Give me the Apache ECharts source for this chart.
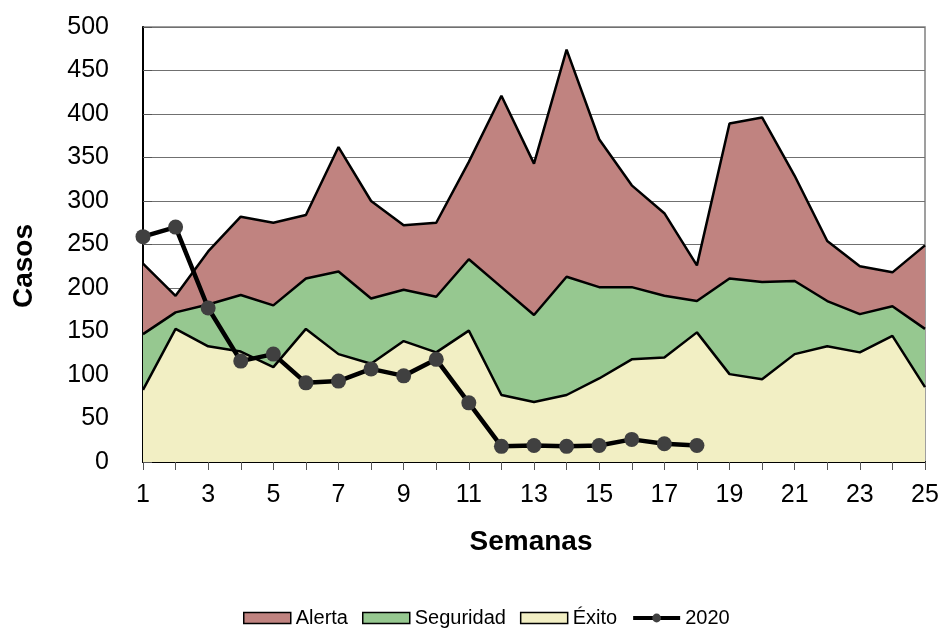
<!DOCTYPE html>
<html>
<head>
<meta charset="utf-8">
<script src="https://cdn.jsdelivr.net/npm/echarts@6/dist/echarts.min.js"></script>
<style>
html,body{margin:0;padding:0;background:#fff;}
#chart{width:944px;height:631px;}
</style>
</head>
<body>
<div id="chart"></div>
<script>
var weeks = ['1','2','3','4','5','6','7','8','9','10','11','12','13','14','15','16','17','18','19','20','21','22','23','24','25'];
var alerta = [228,191,242,282,275,284,362,300,272,275,345,421,343,474,371,318,286,226,389,396,329,254,225,218,249];
var seguridad = [147,172,181,192,180,211,219,188,198,190,233,201,169,213,201,201,191,185,211,207,208,185,170,179,153];
var exito = [83,153,133,127,109,153,124,113,139,126,151,77,69,77,96,118,120,149,101,95,124,133,126,145,86];
var y2020 = [259,270,177,116,124,91,93,107,99,118,68,18,19,18,19,26,21,19];
var yTicks = [0,500,50];

var FONT = "'Liberation Sans', Arial, sans-serif";
var colAlerta = '#C08380';
var colSeg = '#96C890';
var colExito = '#F2EFC4';

function areaSeries(name, data, color) {
  return {
    name: name, type: 'line', data: data, symbol: 'none',
    color: color,
    lineStyle: {color: '#000', width: 2.5},
    itemStyle: {color: color, borderColor: '#000'},
    areaStyle: {color: color, opacity: 1},
    emphasis: {disabled: true}, animation: false
  };
}

var chart = echarts.init(document.getElementById('chart'), null, {renderer: 'canvas'});
chart.setOption({
  backgroundColor: '#fff',
  animation: false,
  textStyle: {fontFamily: FONT},
  grid: {left: 143, right: 19, top: 27, bottom: 169, show: true, borderColor: '#808080', borderWidth: 1.5, backgroundColor: 'transparent'},
  legend: {
    top: 608, left: 243, padding: 0,
    itemWidth: 47, itemHeight: 11, itemGap: 14,
    textStyle: {fontFamily: FONT, fontSize: 20, color: '#000'},
    data: [
      {name: 'Alerta', icon: 'rect', itemStyle: {color: colAlerta, borderColor: '#000', borderWidth: 1.5}},
      {name: 'Seguridad', icon: 'rect', itemStyle: {color: colSeg, borderColor: '#000', borderWidth: 1.5}},
      {name: 'Éxito', icon: 'rect', itemStyle: {color: colExito, borderColor: '#000', borderWidth: 1.5}},
      {name: '2020', itemStyle: {color: '#404040'}, lineStyle: {color: '#000', width: 4}}
    ]
  },
  xAxis: {
    type: 'category', data: weeks, boundaryGap: false,
    axisLine: {lineStyle: {color: '#000', width: 2}},
    axisTick: {show: true, interval: 0, length: 8, lineStyle: {color: '#555', width: 1}},
    axisLabel: {interval: 1, fontSize: 25, color: '#000', fontFamily: FONT, margin: 21},
    splitLine: {show: false}
  },
  yAxis: {
    type: 'value', min: yTicks[0], max: yTicks[1], interval: yTicks[2],
    axisLine: {show: true, lineStyle: {color: '#000', width: 2}},
    axisTick: {show: true, inside: true, length: 9, lineStyle: {color: '#555', width: 1}},
    axisLabel: {fontSize: 25, color: '#000', fontFamily: FONT, margin: 34},
    splitLine: {show: true, lineStyle: {color: '#707070', width: 1}}
  },
  graphic: [
    {type: 'text', x: 531, y: 542, style: {text: 'Semanas', font: 'bold 28px ' + FONT, fill: '#000', textAlign: 'center', textVerticalAlign: 'middle'}, z: 100},
    {type: 'text', rotation: Math.PI / 2, x: 24, y: 266, style: {text: 'Casos', font: 'bold 28px ' + FONT, fill: '#000', textAlign: 'center', textVerticalAlign: 'middle'}, z: 100}
  ],
  series: [
    areaSeries('Alerta', alerta, colAlerta),
    areaSeries('Seguridad', seguridad, colSeg),
    areaSeries('Éxito', exito, colExito),
    {
      name: '2020', type: 'line', data: y2020,
      symbol: 'circle', symbolSize: 15,
      color: '#404040',
      itemStyle: {color: '#404040'},
      lineStyle: {color: '#000', width: 4.5},
      emphasis: {disabled: true}, z: 5, animation: false
    }
  ]
});
</script>
</body>
</html>
